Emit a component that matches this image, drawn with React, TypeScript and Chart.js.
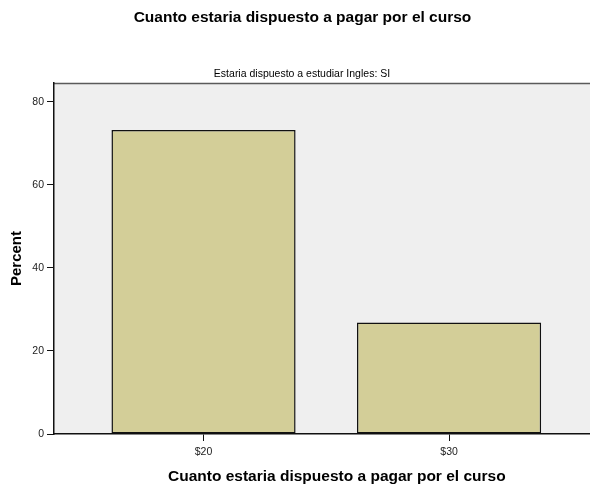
import { useEffect, useRef } from "react";
import { Chart, registerables } from "chart.js";

Chart.register(...registerables);

const chartTitle = "Cuanto estaria dispuesto a pagar por el curso";
const panelLabel = "Estaria dispuesto a estudiar Ingles: SI";
const xAxisTitle = "Cuanto estaria dispuesto a pagar por el curso";
const yAxisTitle = "Percent";
const categories = ["$20", "$30"];
const percents = [73.17, 26.83];
const yTickValues = [0, 20, 40, 60, 80];

const FONT = "Arial, 'Liberation Sans', sans-serif";

const decorPlugin = {
  id: "decor",
  beforeDraw(chart: any) {
    const { ctx, chartArea: a } = chart;
    ctx.save();
    ctx.fillStyle = "#efefef";
    ctx.fillRect(a.left, a.top, a.right - a.left, a.bottom - a.top);
    ctx.strokeStyle = "#5a5a5a";
    ctx.lineWidth = 1.5;
    ctx.beginPath();
    ctx.moveTo(a.left, a.top + 0.5);
    ctx.lineTo(a.right, a.top + 0.5);
    ctx.stroke();
    ctx.restore();
  },
  afterDraw(chart: any) {
    const { ctx } = chart;
    ctx.save();
    ctx.fillStyle = "#000";
    ctx.textBaseline = "alphabetic";
    ctx.textAlign = "center";
    ctx.font = `bold 15.5px ${FONT}`;
    ctx.fillText(chartTitle, 302.5, 22);
    ctx.font = `10.5px ${FONT}`;
    ctx.fillText(panelLabel, 302, 77);
    ctx.textAlign = "left";
    ctx.font = `bold 15.5px ${FONT}`;
    ctx.fillText(xAxisTitle, 168, 481);
    ctx.restore();
  },
};

export default function App() {
  const ref = useRef<HTMLCanvasElement>(null);

  useEffect(() => {
    if (!ref.current) return;
    const chart = new Chart(ref.current, {
      type: "bar",
      data: {
        datasets: [
          {
            data: percents.map((p, i) => ({ x: i, y: p })),
            backgroundColor: "#d3ce98",
            borderColor: "#111",
            borderWidth: 1.5,
            borderSkipped: false,
            barPercentage: 0.75,
            categoryPercentage: 1,
          },
        ],
      },
      options: {
        responsive: false,
        animation: false,
        layout: { padding: { top: 83, right: 0, bottom: 0, left: 0 } },
        plugins: {
          legend: { display: false },
          tooltip: { enabled: false },
        },
        scales: {
          x: {
            type: "linear",
            offset: false,
            min: -0.609,
            max: 1.574,
            afterBuildTicks: (s: any) => {
              s.ticks = categories.map((_, i) => ({ value: i }));
            },
            afterFit: (s: any) => {
              s.height = 51;
            },
            ticks: {
              callback: (v: any) => categories[v as number] ?? "",
              font: { family: FONT, size: 10.5 },
              color: "#222",
              padding: 5,
              maxRotation: 0,
              autoSkip: false,
            },
            grid: {
              offset: false,
              drawOnChartArea: false,
              drawTicks: true,
              tickLength: 7,
              color: "#111",
              lineWidth: 1,
            },
            border: { display: true, color: "#111", width: 1.5 },
          },
          y: {
            min: 0,
            max: 84.5,
            afterBuildTicks: (s: any) => {
              s.ticks = yTickValues.map((v) => ({ value: v }));
            },
            afterFit: (s: any) => {
              s.width = 54;
            },
            ticks: {
              font: { family: FONT, size: 10.5 },
              color: "#222",
              padding: 3,
            },
            grid: {
              drawOnChartArea: false,
              drawTicks: true,
              tickLength: 7,
              color: "#111",
              lineWidth: 1,
            },
            border: { display: true, color: "#111", width: 1.5 },
            title: {
              display: true,
              text: yAxisTitle,
              font: { family: FONT, size: 15, weight: "bold" },
              color: "#000",
              padding: { top: 8, bottom: 0 },
            },
          },
        },
      },
      plugins: [decorPlugin],
    });
    return () => chart.destroy();
  }, []);

  return (
    <div style={{ position: "fixed", left: 0, top: 0, width: 590, height: 485, background: "#fff" }}>
      <canvas ref={ref} width={590} height={485} />
    </div>
  );
}
